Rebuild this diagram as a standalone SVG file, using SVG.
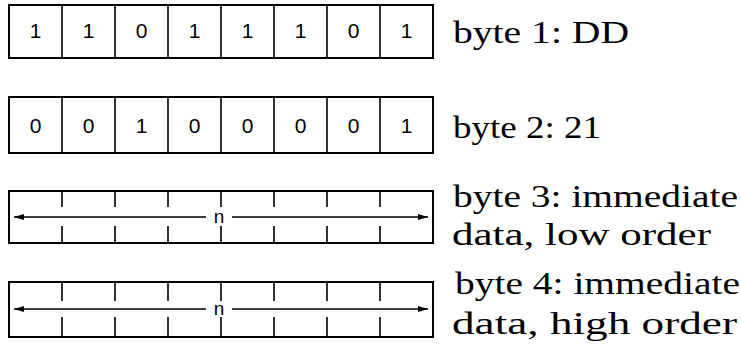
<svg xmlns="http://www.w3.org/2000/svg" width="741" height="352" viewBox="0 0 741 352">
<defs>
<style>
.box{fill:none;stroke:#000;stroke-width:2}
.div{stroke:#000;stroke-width:1.6}
.bit{font-family:"Liberation Sans",Arial,sans-serif;font-size:21px;fill:#000;text-anchor:middle}
.lbl{font-family:"Liberation Serif","Times New Roman",serif;font-size:32px;fill:#000}
.n{font-family:"Liberation Sans",Arial,sans-serif;font-size:19px;fill:#000;text-anchor:middle}
.ar{stroke:#000;stroke-width:1.5;fill:none}
</style>
<marker id="ah" viewBox="0 0 10 6" refX="10" refY="3" markerWidth="10" markerHeight="6" markerUnits="userSpaceOnUse" orient="auto">
<path d="M0,0 L10,3 L0,6 Z" fill="#000"/>
</marker>
</defs>
<rect width="741" height="352" fill="#fff"/>

<g id="byte1">
<rect class="box" x="9" y="5" width="424" height="53"/>
<path class="div" d="M62,5V58M115,5V58M168,5V58M221,5V58M274,5V58M327,5V58M380,5V58"/>
<text class="bit" x="35.5" y="38">1</text>
<text class="bit" x="88.5" y="38">1</text>
<text class="bit" x="141.5" y="38">0</text>
<text class="bit" x="194.5" y="38">1</text>
<text class="bit" x="247.5" y="38">1</text>
<text class="bit" x="300.5" y="38">1</text>
<text class="bit" x="353.5" y="38">0</text>
<text class="bit" x="406.5" y="38">1</text>
<text class="lbl" x="453" y="43" textLength="176" lengthAdjust="spacingAndGlyphs">byte 1: DD</text>
</g>

<g id="byte2">
<rect class="box" x="9" y="97" width="424" height="56"/>
<path class="div" d="M62,97V153M115,97V153M168,97V153M221,97V153M274,97V153M327,97V153M380,97V153"/>
<text class="bit" x="35.5" y="133">0</text>
<text class="bit" x="88.5" y="133">0</text>
<text class="bit" x="141.5" y="133">1</text>
<text class="bit" x="194.5" y="133">0</text>
<text class="bit" x="247.5" y="133">0</text>
<text class="bit" x="300.5" y="133">0</text>
<text class="bit" x="353.5" y="133">0</text>
<text class="bit" x="406.5" y="133">1</text>
<text class="lbl" x="453" y="138" textLength="148" lengthAdjust="spacingAndGlyphs">byte 2: 21</text>
</g>

<g id="byte3">
<rect class="box" x="9" y="191" width="424" height="52"/>
<path class="div" d="M62,191V207M115,191V207M168,191V207M221,191V207M274,191V207M327,191V207M380,191V207M62,226V243M115,226V243M168,226V243M221,226V243M274,226V243M327,226V243M380,226V243"/>
<text class="n" x="219" y="223">n</text>
<text class="lbl" x="453" y="207" textLength="285" lengthAdjust="spacingAndGlyphs">byte 3: immediate</text>
<text class="lbl" x="452" y="245" textLength="259" lengthAdjust="spacingAndGlyphs">data, low order</text>
</g>

<g id="byte4">
<rect class="box" x="9" y="282" width="424" height="55"/>
<path class="div" d="M62,282V301M115,282V301M168,282V301M221,282V301M274,282V301M327,282V301M380,282V301M62,317V337M115,317V337M168,317V337M221,317V337M274,317V337M327,317V337M380,317V337"/>
<text class="n" x="219" y="315">n</text>
<text class="lbl" x="455" y="294" textLength="285" lengthAdjust="spacingAndGlyphs">byte 4: immediate</text>
<text class="lbl" x="452" y="334" textLength="285" lengthAdjust="spacingAndGlyphs">data, high order</text>
</g>

<g id="connectors">
<path class="ar" d="M206,217H14" marker-end="url(#ah)"/>
<path class="ar" d="M232,217H428" marker-end="url(#ah)"/>
<path class="ar" d="M206,309H14" marker-end="url(#ah)"/>
<path class="ar" d="M232,309H428" marker-end="url(#ah)"/>
</g>
</svg>
